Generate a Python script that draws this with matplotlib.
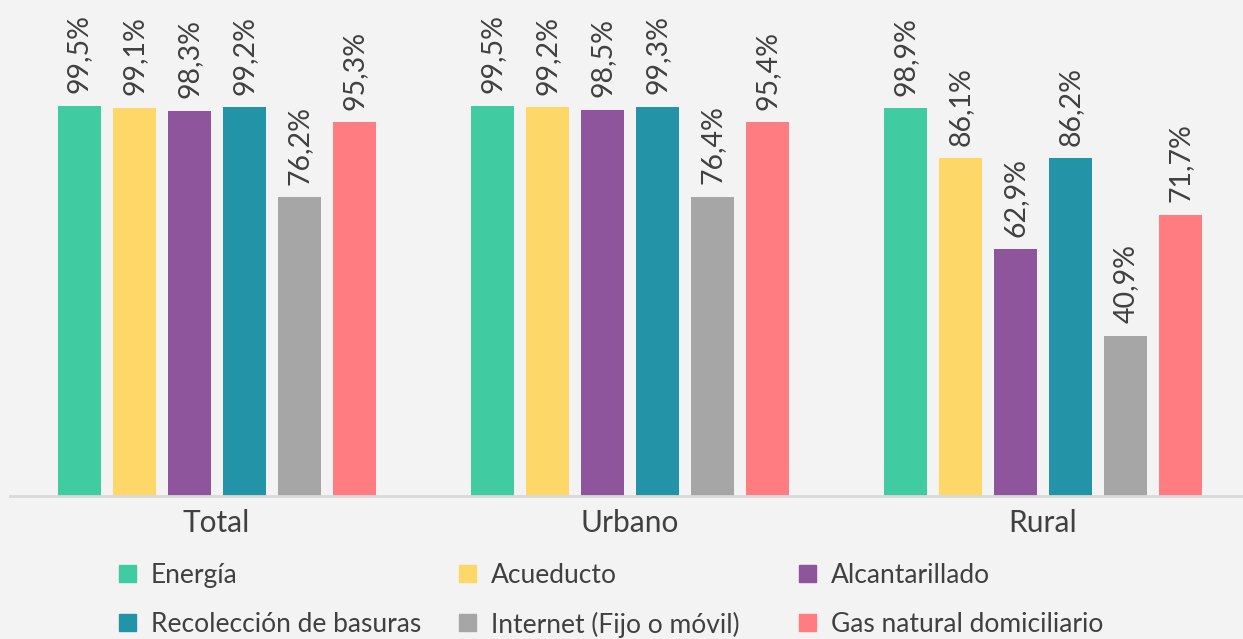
import numpy as np
import matplotlib.pyplot as plt
from matplotlib.patches import Rectangle

# Data
groups = ['Total', 'Urbano', 'Rural']
services = ['Energía', 'Acueducto', 'Alcantarillado',
            'Recolección de basuras', 'Internet (Fijo o móvil)', 'Gas natural domiciliario']
energia = [99.5, 99.5, 98.9]
acueducto = [99.1, 99.2, 86.1]
alcantarillado = [98.3, 98.5, 62.9]
recoleccion = [99.2, 99.3, 86.2]
internet = [76.2, 76.4, 40.9]
gas = [95.3, 95.4, 71.7]
colors = ['#40CCA0', '#FDD868', '#8E549C', '#2393A8', '#A6A6A6', '#FF7C80']

series = [energia, acueducto, alcantarillado, recoleccion, internet, gas]

plt.rcParams['font.family'] = ['Lato', 'DejaVu Sans']
txt_color = '#404040'
bg = '#F3F3F3'

W, H = 1243, 639
fig = plt.figure(figsize=(W / 100, H / 100), dpi=100, facecolor=bg)
ax = fig.add_axes([10 / W, (H - 496) / H, (W - 10) / W, 496 / H])
ax.set_facecolor(bg)

x = np.arange(len(groups))
step = 55 / 413
width = 43 / 413
for i, (vals, col) in enumerate(zip(series, colors)):
    xs = x + (i - 2.5) * step
    ax.bar(xs, vals, width=width, color=col, zorder=2)
    for xi, v in zip(xs, vals):
        ax.annotate('{:.1f}%'.format(v).replace('.', ','), (xi, v),
                    xytext=(0, 9), textcoords='offset points',
                    rotation=90, ha='center', va='bottom',
                    fontsize=20.5, color=txt_color)

ax.set_xlim(-0.5, 2 + (W - 1043) / 413)
ax.set_ylim(0, 496 / 3.92)
for s in ['top', 'right', 'left']:
    ax.spines[s].set_visible(False)
ax.spines['bottom'].set_color('#D9D9D9')
ax.spines['bottom'].set_linewidth(2)
ax.set_yticks([])
ax.set_xticks(x)
ax.set_xticklabels(groups, fontsize=21.5, color=txt_color)
ax.tick_params(axis='x', length=0, pad=9)

# legend, row-major, 3 columns
col_x = [127, 467, 807]
row_y = [573, 622]
for k, (name, col) in enumerate(zip(services, colors)):
    cx = col_x[k % 3]
    cy = row_y[k // 3]
    fig.patches.append(Rectangle(((cx - 8.5) / W, (H - cy - 8.5) / H), 17 / W, 17 / H,
                                 transform=fig.transFigure, color=col, figure=fig))
    fig.text((cx + 24) / W, (H - cy) / H, name, fontsize=19, color=txt_color,
             ha='left', va='center_baseline')

fig.savefig('out.png', dpi=100, facecolor=bg)
